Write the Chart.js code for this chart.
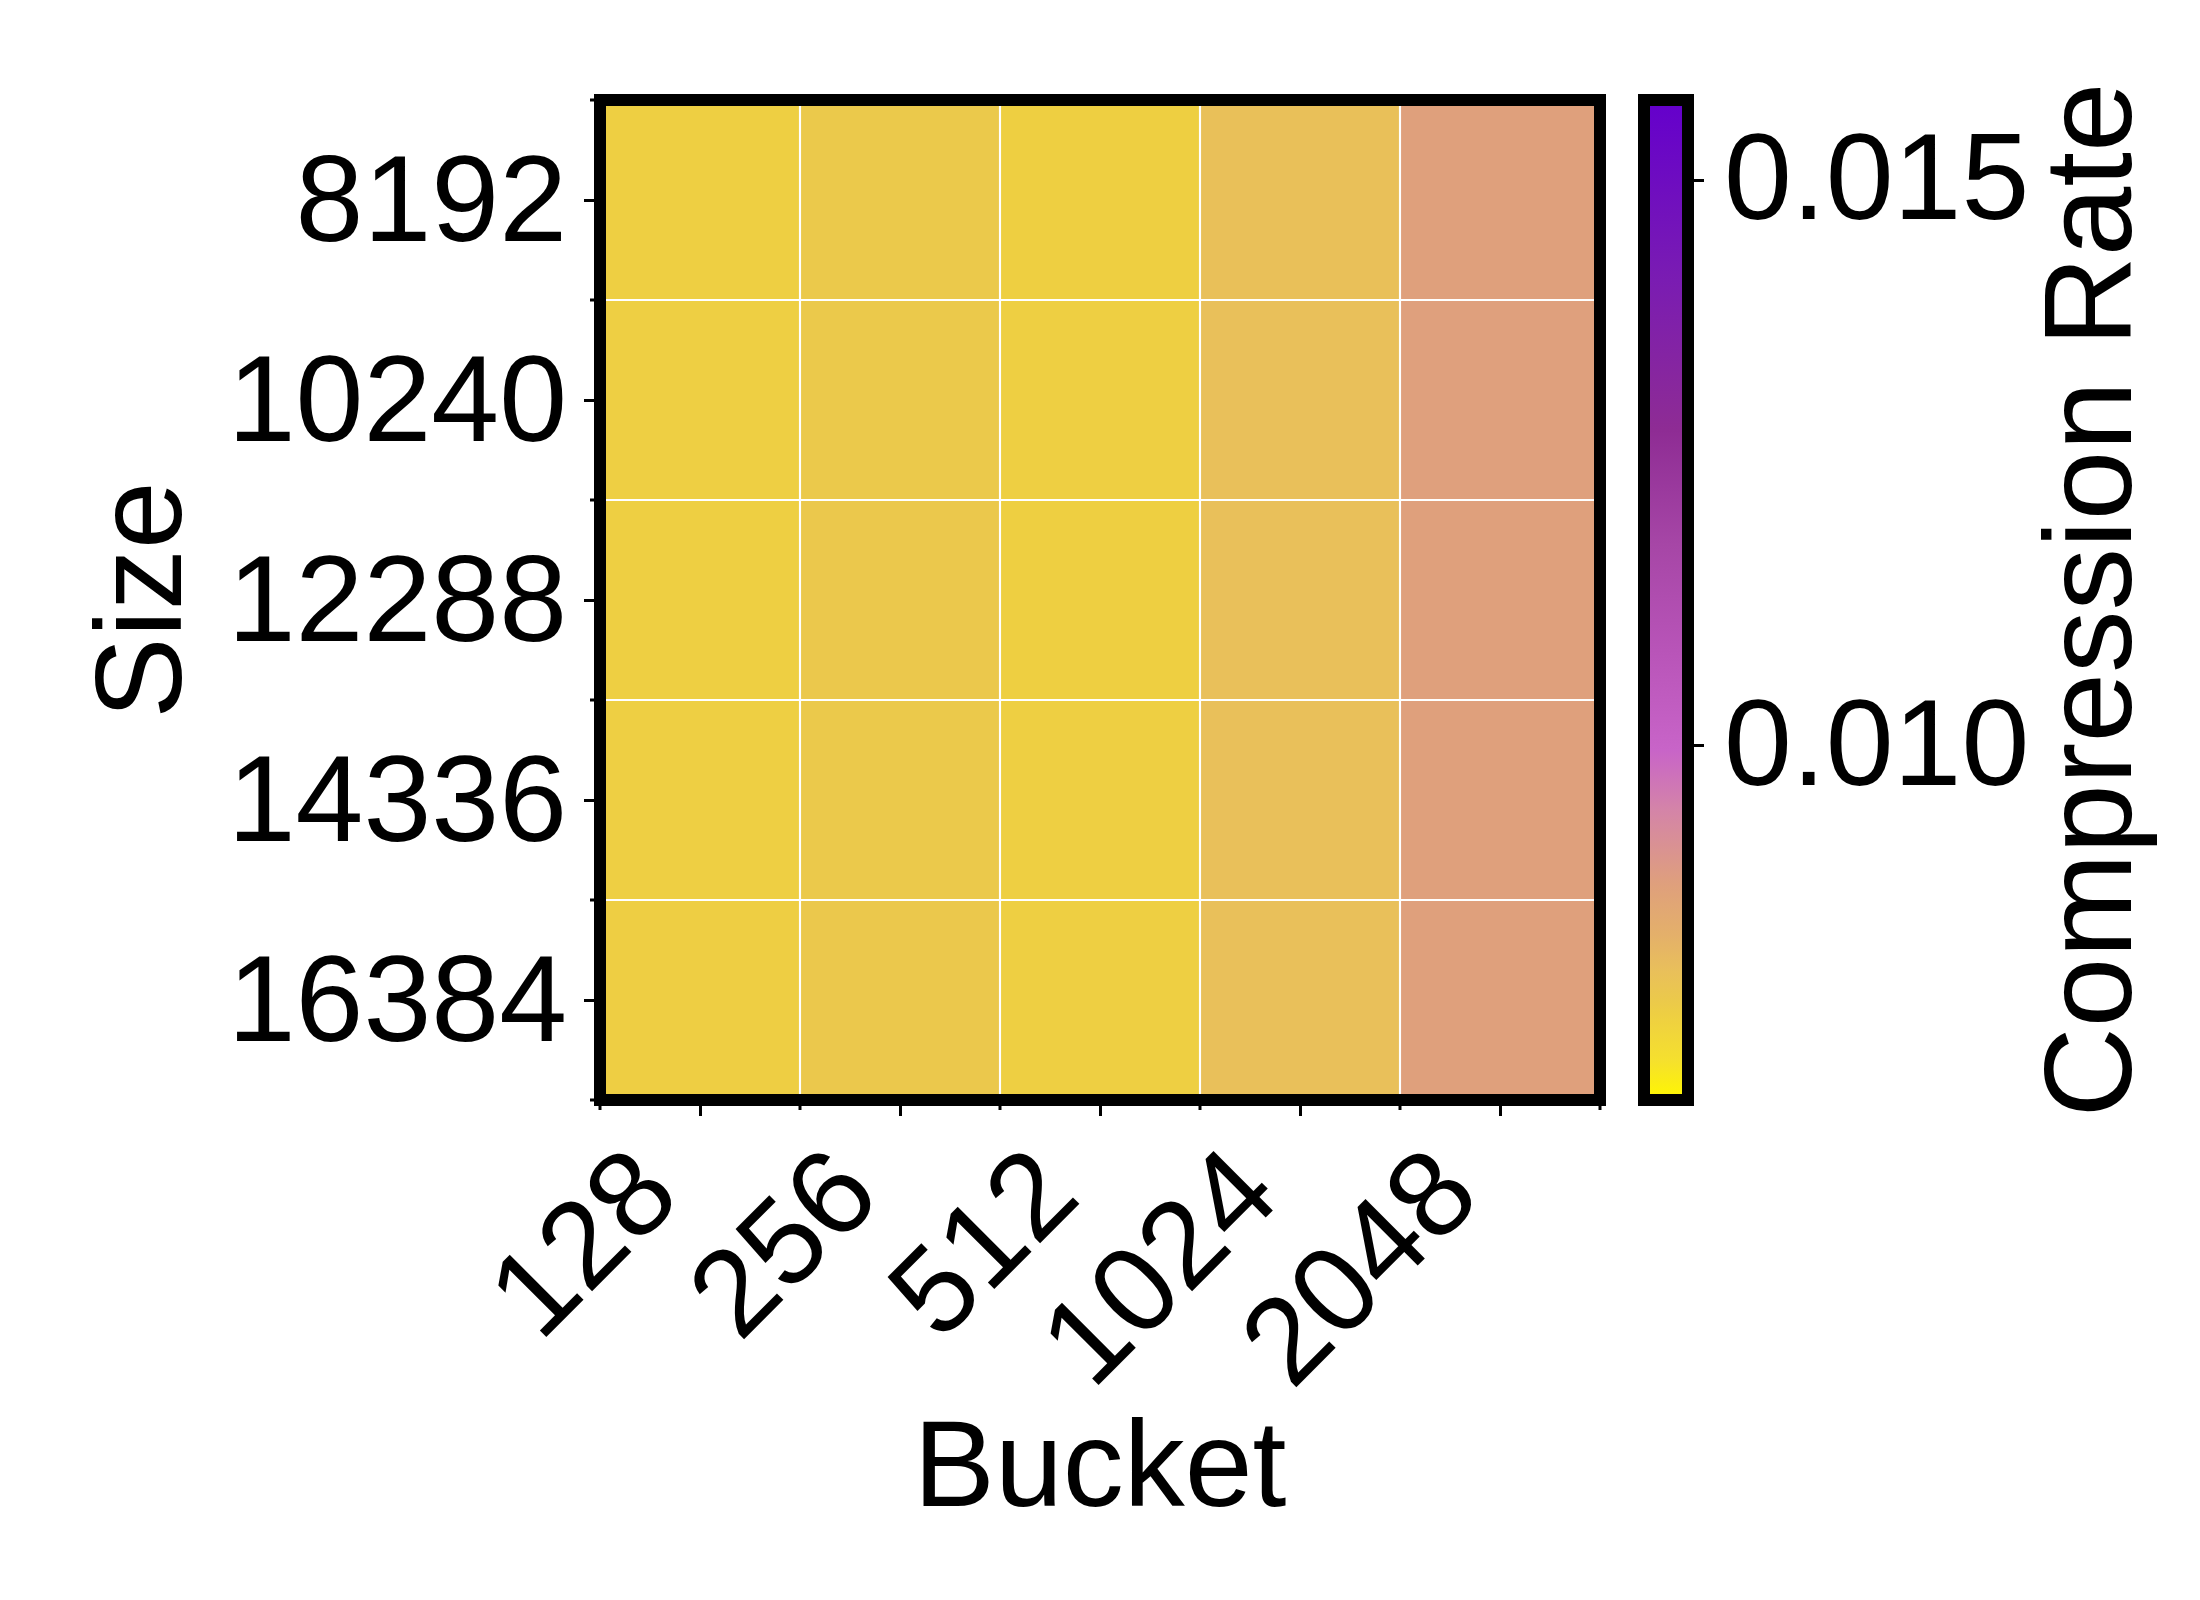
<!DOCTYPE html>
<html>
<head>
<meta charset="utf-8">
<title>Compression Rate heatmap</title>
<script src="https://cdn.jsdelivr.net/npm/chart.js@4.4.1/dist/chart.umd.min.js"></script>
<style>
    html, body { margin: 0; padding: 0; background: #fff; }
    #wrap { position: relative; width: 2200px; height: 1600px; }
    #heat { position: absolute; left: 0; top: 0; }
    #cbar { position: absolute; left: 1600px; top: 0; }
</style>
</head>
<body>
<div id="wrap">
    <canvas id="heat" width="1620" height="1600"></canvas>
    <canvas id="cbar" width="600" height="1600"></canvas>
</div>
<script>
// ---- data ----
const buckets = ["128", "256", "512", "1024", "2048"];
const sizes = ["8192", "10240", "12288", "14336", "16384"];

// compression rate per bucket, one array per size (top row first)
const rate8192  = [0.00762, 0.00776, 0.00761, 0.00799, 0.00877];
const rate10240 = [0.00763, 0.00775, 0.00762, 0.00800, 0.00878];
const rate12288 = [0.00762, 0.00777, 0.00761, 0.00801, 0.00876];
const rate14336 = [0.00763, 0.00776, 0.00762, 0.00800, 0.00877];
const rate16384 = [0.00764, 0.00777, 0.00762, 0.00800, 0.00876];

const cbarMin = 0.00687;
const cbarMax = 0.01571;
const cbarTicks = [0.010, 0.015];

// colormap stops (0 = bottom, 1 = top)
const cmapPos = [0, 0.04, 0.085, 0.10, 0.128, 0.165, 0.215, 0.29, 0.35, 0.45, 0.556, 0.67, 0.82, 1];
const cmapColors = ["#fff700", "#f5e02e", "#eecf42", "#ebc94b", "#e9c05a", "#e4b06a", "#dfa07c",
    "#d484a8", "#c864c8", "#b854b8", "#a646a6", "#8e2c94", "#7a1cb2", "#6400cc"];

const FONT = "'Liberation Sans', Arial, Helvetica, sans-serif";
Chart.defaults.font.family = FONT;
Chart.defaults.font.size = 122;
Chart.defaults.color = "#000";

function hexRgb(h) {
    return [1, 3, 5].map(i => parseInt(h.substr(i, 2), 16));
}

// value -> colour through the colormap
function rateColor(v) {
    let t = (v - cbarMin) / (cbarMax - cbarMin);
    t = Math.max(0, Math.min(1, t));
    let k = 0;
    while (k < cmapPos.length - 2 && t > cmapPos[k + 1]) k++;
    const f = (t - cmapPos[k]) / (cmapPos[k + 1] - cmapPos[k]);
    const a = hexRgb(cmapColors[k]), b = hexRgb(cmapColors[k + 1]);
    const c = a.map((x, i) => Math.round(x + (b[i] - x) * f));
    return `rgb(${c[0]},${c[1]},${c[2]})`;
}

// black frame + short ticks at cell edges
const frameAndMinor = {
    id: "frameAndMinor",
    afterDraw(chart) {
        const { ctx, chartArea: a } = chart;
        const x = chart.scales.x, y = chart.scales.y;
        ctx.save();
        ctx.strokeStyle = "#000";
        if (chart.config.options.minorTicks) {
            ctx.lineWidth = 3;
            ctx.beginPath();
            for (let i = 0; i <= buckets.length; i++) {
                const px = x.getPixelForValue(i - 0.5);
                ctx.moveTo(px, a.bottom);
                ctx.lineTo(px, a.bottom + 10);
            }
            for (let i = 0; i <= sizes.length; i++) {
                const py = y.getPixelForValue(i);
                ctx.moveTo(a.left - 10, py);
                ctx.lineTo(a.left, py);
            }
            ctx.stroke();
        }
        ctx.lineWidth = 12;
        ctx.strokeRect(a.left, a.top, a.right - a.left, a.bottom - a.top);
        ctx.restore();
    }
};

// ---- heatmap ----
const rows = [rate8192, rate10240, rate12288, rate14336, rate16384];
const heatSets = rows.map((vals, r) => ({
    label: sizes[r],
    data: vals.map(() => 1),
    backgroundColor: vals.map(v => rateColor(v)),
    borderColor: "#ffffff",
    borderWidth: 1.4,
    borderSkipped: false,
    barPercentage: 1,
    categoryPercentage: 1,
    stack: "grid"
}));

new Chart(document.getElementById("heat"), {
    type: "bar",
    data: { labels: buckets, datasets: heatSets },
    options: {
        responsive: false,
        animation: false,
        minorTicks: true,
        layout: { padding: { left: 0, top: 100, right: 20, bottom: 0 } },
        plugins: { legend: { display: false }, tooltip: { enabled: false } },
        scales: {
            x: {
                stacked: true,
                offset: true,
                grid: { offset: false, drawOnChartArea: false, tickLength: 16, tickWidth: 3, tickColor: "#000" },
                border: { display: false },
                ticks: { minRotation: 45, maxRotation: 45, padding: 8, labelOffset: -40, autoSkip: false },
                title: { display: true, text: "Bucket", padding: { top: 0, bottom: 54 } },
                afterFit(s) { s.height = 500; }
            },
            y: {
                type: "linear",
                min: 0,
                max: 5,
                reverse: true,
                stacked: true,
                afterBuildTicks(s) { s.ticks = sizes.map((_, i) => ({ value: i + 0.5 })); },
                ticks: { callback: (v, i) => sizes[i], padding: 17, labelOffset: 7, autoSkip: false },
                grid: { drawOnChartArea: false, tickLength: 16, tickWidth: 3, tickColor: "#000" },
                border: { display: false },
                title: { display: true, text: "Size", padding: { top: 74, bottom: 0 } },
                afterFit(s) { s.width = 600; }
            }
        }
    },
    plugins: [frameAndMinor]
});

// ---- colour bar ----
function cbarGradient(chart) {
    const a = chart.chartArea;
    if (!a) return cmapColors[0];
    const y = chart.scales.y;
    const g = chart.ctx.createLinearGradient(0, y.getPixelForValue(cbarMin), 0, y.getPixelForValue(cbarMax));
    cmapPos.forEach((p, i) => g.addColorStop(p, cmapColors[i]));
    return g;
}

const cbarTitle = {
    id: "cbarTitle",
    afterDraw(chart) {
        const ctx = chart.ctx;
        ctx.save();
        ctx.font = `125px ${FONT}`;
        ctx.fillStyle = "#000";
        ctx.textAlign = "center";
        ctx.textBaseline = "middle";
        ctx.translate(497, 600);
        ctx.rotate(-Math.PI / 2);
        ctx.fillText("Compression Rate", 0, 0);
        ctx.restore();
    }
};

new Chart(document.getElementById("cbar"), {
    type: "bar",
    data: {
        labels: ["rate"],
        datasets: [{
            data: [[cbarMin, cbarMax]],
            backgroundColor: ctx => cbarGradient(ctx.chart),
            borderWidth: 0,
            barPercentage: 1,
            categoryPercentage: 1
        }]
    },
    options: {
        responsive: false,
        animation: false,
        minorTicks: false,
        layout: { padding: { left: 44, top: 100, right: 0, bottom: 500 } },
        plugins: { legend: { display: false }, tooltip: { enabled: false } },
        scales: {
            x: { display: false },
            y: {
                position: "right",
                min: cbarMin,
                max: cbarMax,
                afterBuildTicks(s) { s.ticks = cbarTicks.map(v => ({ value: v })); },
                ticks: { callback: v => v.toFixed(3), padding: 20, labelOffset: 5 },
                grid: { drawOnChartArea: false, tickLength: 16, tickWidth: 3, tickColor: "#000" },
                border: { display: false },
                afterFit(s) { s.width = 512; }
            }
        }
    },
    plugins: [frameAndMinor, cbarTitle]
});
</script>
</body>
</html>
